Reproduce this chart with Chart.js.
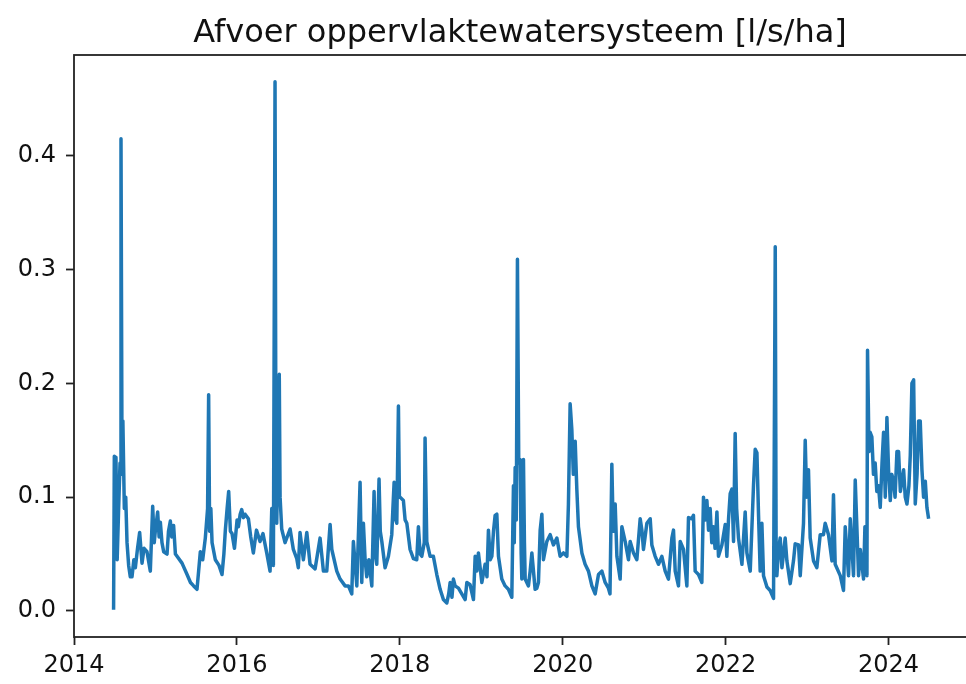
<!DOCTYPE html>
<html>
<head>
<meta charset="utf-8">
<title>Afvoer oppervlaktewatersysteem</title>
<script src="https://cdn.jsdelivr.net/npm/chart.js@4.4.1/dist/chart.umd.min.js"></script>
<style>
  html, body { margin: 0; padding: 0; background: #fff; overflow: hidden; }
  canvas { display: block; }
</style>
</head>
<body>
<canvas id="afvoerChart" width="972" height="684"></canvas>
<script>
var titel = 'Afvoer oppervlaktewatersysteem [l/s/ha]';

// tijd in decimale jaren
var jaren = [
  2014.486, 2014.495, 2014.505, 2014.515, 2014.530, 2014.548, 2014.565, 2014.577, 2014.590, 2014.600,
  2014.618, 2014.635, 2014.651, 2014.671, 2014.691, 2014.712, 2014.735, 2014.753, 2014.780, 2014.806,
  2014.835, 2014.860, 2014.896, 2014.937, 2014.966, 2014.985, 2014.998, 2015.027, 2015.045, 2015.060,
  2015.080, 2015.101, 2015.142, 2015.160, 2015.183, 2015.200, 2015.223, 2015.245, 2015.265, 2015.326,
  2015.388, 2015.430, 2015.469, 2015.510, 2015.530, 2015.551, 2015.580, 2015.612, 2015.640, 2015.653,
  2015.665, 2015.680, 2015.695, 2015.735, 2015.780, 2015.817, 2015.840, 2015.858, 2015.880, 2015.899,
  2015.920, 2015.940, 2015.970, 2016.002,
  2016.018, 2016.040, 2016.059, 2016.080, 2016.100, 2016.141, 2016.170, 2016.202, 2016.240, 2016.284,
  2016.320, 2016.366, 2016.407, 2016.428, 2016.448, 2016.468, 2016.480, 2016.489, 2016.509, 2016.520,
  2016.530, 2016.550, 2016.591, 2016.653, 2016.693, 2016.735, 2016.754, 2016.775, 2016.816, 2016.858,
  2016.898, 2016.960, 2017.021, 2017.062, 2017.103, 2017.144, 2017.165, 2017.226, 2017.267, 2017.328,
  2017.369, 2017.410, 2017.430, 2017.472, 2017.512,
  2017.533, 2017.553, 2017.574, 2017.594, 2017.620, 2017.656, 2017.684, 2017.700, 2017.717, 2017.745,
  2017.760, 2017.779, 2017.819, 2017.860, 2017.901, 2017.915, 2017.930, 2017.950, 2017.963, 2017.983,
  2017.995, 2018.003, 2018.044, 2018.065, 2018.086, 2018.126, 2018.167, 2018.208, 2018.228, 2018.250,
  2018.270, 2018.300, 2018.310, 2018.331, 2018.372, 2018.412, 2018.454, 2018.495, 2018.535, 2018.577,
  2018.600, 2018.618, 2018.640, 2018.658, 2018.679, 2018.720, 2018.761, 2018.802, 2018.823, 2018.863,
  2018.904, 2018.925, 2018.945, 2018.965, 2019.007, 2019.047, 2019.070, 2019.088, 2019.110, 2019.130,
  2019.150, 2019.170, 2019.191,
  2019.211, 2019.252, 2019.293, 2019.333, 2019.375, 2019.395, 2019.405, 2019.416, 2019.430, 2019.444,
  2019.460, 2019.477, 2019.490, 2019.498, 2019.518, 2019.530, 2019.539, 2019.579, 2019.600, 2019.621,
  2019.661, 2019.682, 2019.702, 2019.723, 2019.744, 2019.763, 2019.805, 2019.846, 2019.886, 2019.928,
  2019.968, 2020.009, 2020.051, 2020.070, 2020.091, 2020.112, 2020.130, 2020.153, 2020.173, 2020.193,
  2020.235, 2020.275, 2020.316, 2020.358, 2020.398, 2020.439, 2020.480, 2020.521, 2020.561, 2020.580,
  2020.603, 2020.620, 2020.644, 2020.665, 2020.705, 2020.726, 2020.767, 2020.807, 2020.828,
  2020.869, 2020.910, 2020.951, 2020.972, 2020.991, 2021.033, 2021.074, 2021.094, 2021.135, 2021.176,
  2021.217, 2021.258, 2021.298, 2021.340, 2021.360, 2021.381, 2021.421, 2021.442, 2021.483, 2021.524,
  2021.544, 2021.586, 2021.605, 2021.626, 2021.667, 2021.708, 2021.728, 2021.750, 2021.770, 2021.790,
  2021.810, 2021.830, 2021.851, 2021.870, 2021.893, 2021.912, 2021.954, 2021.995, 2022.015, 2022.035,
  2022.056, 2022.077, 2022.097, 2022.117, 2022.135, 2022.158, 2022.200, 2022.240, 2022.261, 2022.302,
  2022.342, 2022.363, 2022.384, 2022.404, 2022.424,
  2022.445, 2022.465, 2022.507, 2022.547, 2022.588, 2022.609, 2022.620, 2022.629, 2022.650, 2022.670,
  2022.691, 2022.731, 2022.752, 2022.793, 2022.833, 2022.854, 2022.895, 2022.916, 2022.956, 2022.977,
  2022.995, 2023.017, 2023.038, 2023.079, 2023.120, 2023.161, 2023.201, 2023.222, 2023.263, 2023.305,
  2023.324, 2023.345, 2023.407, 2023.447, 2023.468, 2023.509, 2023.530, 2023.570, 2023.591, 2023.632,
  2023.653, 2023.693, 2023.710, 2023.735, 2023.742, 2023.760, 2023.774, 2023.795, 2023.815, 2023.836,
  2023.856, 2023.877, 2023.898, 2023.920, 2023.939, 2023.960, 2023.980, 2024.000, 2024.021, 2024.040,
  2024.062, 2024.080, 2024.103, 2024.123, 2024.145, 2024.164, 2024.185, 2024.205, 2024.226, 2024.250,
  2024.267, 2024.287, 2024.308, 2024.328, 2024.350, 2024.369, 2024.389, 2024.410, 2024.430, 2024.451,
  2024.471, 2024.492
];

// afvoer in l/s/ha
var afvoer = [
  0.001, 0.136, 0.100, 0.135, 0.045, 0.090, 0.130, 0.415, 0.120, 0.167,
  0.090, 0.100, 0.060, 0.040, 0.030, 0.030, 0.045, 0.038, 0.055, 0.069,
  0.042, 0.055, 0.052, 0.035, 0.092, 0.060, 0.070, 0.087, 0.065, 0.078,
  0.060, 0.052, 0.050, 0.070, 0.079, 0.065, 0.075, 0.050, 0.048, 0.042,
  0.032, 0.025, 0.022, 0.019, 0.035, 0.052, 0.045, 0.064, 0.090, 0.190,
  0.070, 0.090, 0.060, 0.045, 0.040, 0.032, 0.050, 0.071, 0.090, 0.105,
  0.070, 0.068, 0.055, 0.080,
  0.074, 0.085, 0.089, 0.082, 0.085, 0.081, 0.065, 0.051, 0.071, 0.061,
  0.068, 0.051, 0.035, 0.090, 0.040, 0.465, 0.100, 0.077, 0.156, 0.208,
  0.100, 0.072, 0.060, 0.072, 0.054, 0.046, 0.038, 0.069, 0.045, 0.069,
  0.041, 0.037, 0.064, 0.035, 0.035, 0.076, 0.054, 0.035, 0.028, 0.022,
  0.022, 0.015, 0.061, 0.022, 0.113,
  0.025, 0.077, 0.045, 0.030, 0.045, 0.022, 0.105, 0.050, 0.041, 0.116,
  0.070, 0.061, 0.038, 0.048, 0.067, 0.090, 0.113, 0.080, 0.077, 0.180,
  0.100, 0.100, 0.097, 0.080, 0.077, 0.054, 0.046, 0.045, 0.074, 0.050,
  0.048, 0.060, 0.152, 0.061, 0.048, 0.048, 0.032, 0.019, 0.010, 0.007,
  0.015, 0.025, 0.012, 0.028, 0.022, 0.020, 0.015, 0.010, 0.025, 0.023,
  0.010, 0.048, 0.035, 0.051, 0.025, 0.041, 0.030, 0.071, 0.045, 0.048,
  0.070, 0.084, 0.085,
  0.048, 0.028, 0.022, 0.019, 0.012, 0.110, 0.060, 0.126, 0.080, 0.309,
  0.130, 0.133, 0.050, 0.028, 0.133, 0.060, 0.028, 0.022, 0.035, 0.051,
  0.019, 0.020, 0.025, 0.071, 0.085, 0.045, 0.061, 0.067, 0.058, 0.064,
  0.048, 0.051, 0.048, 0.094, 0.182, 0.159, 0.120, 0.149, 0.107, 0.074,
  0.051, 0.041, 0.035, 0.022, 0.015, 0.032, 0.035, 0.025, 0.020, 0.015,
  0.129, 0.070, 0.094, 0.048, 0.028, 0.074, 0.061, 0.045, 0.061,
  0.051, 0.045, 0.081, 0.071, 0.054, 0.077, 0.081, 0.058, 0.048, 0.041,
  0.048, 0.035, 0.028, 0.064, 0.071, 0.035, 0.022, 0.061, 0.054, 0.022,
  0.082, 0.081, 0.084, 0.035, 0.032, 0.025, 0.100, 0.080, 0.097, 0.071,
  0.090, 0.060, 0.074, 0.055, 0.087, 0.048, 0.058, 0.076, 0.048, 0.080,
  0.103, 0.107, 0.061, 0.156, 0.090, 0.064, 0.041, 0.087, 0.051, 0.035,
  0.110, 0.142, 0.139, 0.084, 0.035,
  0.077, 0.031, 0.021, 0.018, 0.011, 0.320, 0.050, 0.031, 0.055, 0.064,
  0.038, 0.064, 0.044, 0.024, 0.044, 0.059, 0.058, 0.031, 0.077, 0.150,
  0.100, 0.124, 0.064, 0.044, 0.038, 0.067, 0.067, 0.077, 0.067, 0.044,
  0.102, 0.041, 0.031, 0.018, 0.074, 0.031, 0.081, 0.031, 0.115, 0.031,
  0.054, 0.028, 0.074, 0.031, 0.229, 0.140, 0.157, 0.153, 0.120, 0.130,
  0.105, 0.110, 0.091, 0.130, 0.157, 0.100, 0.170, 0.124, 0.097, 0.120,
  0.114, 0.100, 0.140, 0.140, 0.105, 0.114, 0.124, 0.100, 0.094, 0.110,
  0.137, 0.200, 0.203, 0.094, 0.120, 0.167, 0.167, 0.124, 0.100, 0.114,
  0.091, 0.081
];

var xTicks = [2014, 2016, 2018, 2020, 2022, 2024];
var yTicks = [0.0, 0.1, 0.2, 0.3, 0.4];

Chart.defaults.font.family = '"DejaVu Sans", sans-serif';

// kader rond de assen + titel boven het midden van het plotvlak
var kader = {
  id: 'kader',
  afterDraw: function(chart) {
    var ctx = chart.ctx, a = chart.chartArea;
    ctx.save();
    ctx.strokeStyle = '#222';
    ctx.lineWidth = 1.8;
    ctx.strokeRect(a.left, a.top, a.right - a.left, a.bottom - a.top);
    ctx.fillStyle = '#111';
    ctx.font = '32px "DejaVu Sans"';
    ctx.textAlign = 'center';
    ctx.textBaseline = 'alphabetic';
    ctx.fillText(titel, (a.left + a.right) / 2 - 2, 42);
    ctx.restore();
  }
};

var punten = [];
for (var i = 0; i < jaren.length; i++) {
  punten.push({ x: jaren[i], y: afvoer[i] });
}

var ctx = document.getElementById('afvoerChart');
var afvoerChart = new Chart(ctx, {
  type: 'line',
  data: {
    datasets: [{
      data: punten,
      borderColor: '#1f77b4',
      borderWidth: 3.5,
      borderJoinStyle: 'round',
      pointRadius: 0,
      tension: 0,
      fill: false
    }]
  },
  options: {
    responsive: false,
    animation: false,
    events: [],
    layout: { padding: { top: 55, right: 2, left: 0, bottom: 0 } },
    plugins: {
      legend: { display: false },
      tooltip: { enabled: false },
      title: { display: false }
    },
    scales: {
      x: {
        type: 'linear',
        min: 2014,
        max: 2025,
        afterBuildTicks: function(s) { s.ticks = xTicks.map(function(v) { return { value: v }; }); },
        afterFit: function(s) { s.height = 47; },
        grid: { drawOnChartArea: false, drawTicks: true, tickLength: 8, tickWidth: 1.8, tickColor: '#222' },
        border: { display: false },
        ticks: {
          color: '#111',
          font: { size: 24 },
          padding: 6,
          maxRotation: 0,
          autoSkip: false,
          callback: function(v) { return String(v); }
        }
      },
      y: {
        type: 'linear',
        min: -0.0229,
        max: 0.4885,
        afterBuildTicks: function(s) { s.ticks = yTicks.map(function(v) { return { value: v }; }); },
        afterFit: function(s) { s.width = 74; },
        grid: { drawOnChartArea: false, drawTicks: true, tickLength: 8, tickWidth: 1.8, tickColor: '#222' },
        border: { display: false },
        ticks: {
          color: '#111',
          font: { size: 24 },
          padding: 10,
          callback: function(v) { return v.toFixed(1); }
        }
      }
    }
  },
  plugins: [kader]
});
</script>
</body>
</html>
